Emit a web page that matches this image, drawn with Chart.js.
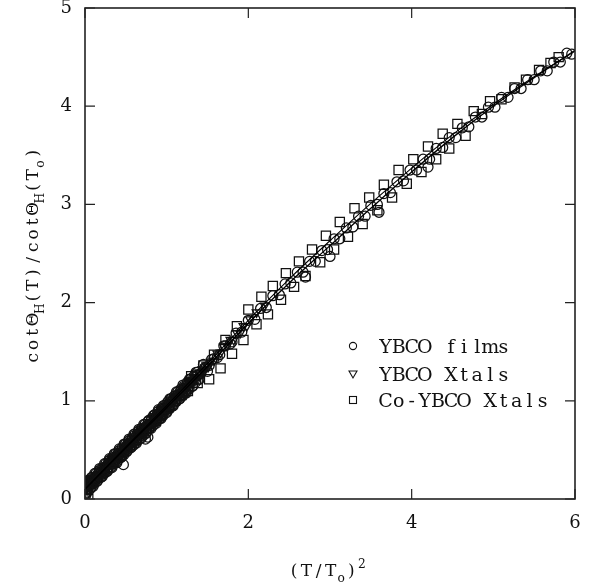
<!DOCTYPE html>
<html>
<head>
<meta charset="utf-8">
<script src="https://cdn.jsdelivr.net/npm/chart.js@4.4.1/dist/chart.umd.min.js"></script>
<style>
html,body{margin:0;padding:0;background:#fff;}
#wrap{width:590px;height:586px;position:relative;}
</style>
</head>
<body>
<div id="wrap"><canvas id="c" width="590" height="586"></canvas></div>
<script>
// ---- Data ----
const xTicks = [0, 2, 4, 6];
const yTicks = [0, 1, 2, 3, 4, 5];
const legendLabels = ['YBCO films', 'YBCO Xtals', 'Co-YBCO Xtals'];

// YBCO films (circles)
const filmsX = [
  0.00,0.02,0.04,0.06,0.08,0.10,0.12,0.15,0.18,0.21,0.24,0.27,0.30,0.33,0.36,0.39,0.42,0.45,0.48,0.51,0.54,0.57,0.60,0.63,0.66,0.69,0.72,0.75,0.78,0.81,0.84,0.87,0.90,0.93,0.96,1.00,1.04,1.08,1.12,1.16,1.20,1.24,1.28,1.32,1.36,1.40,1.45,1.50,
  0.01,0.03,0.05,0.07,0.09,0.11,0.13,0.16,0.19,0.22,0.25,0.28,0.31,0.34,0.37,0.40,0.43,0.46,0.49,0.52,0.55,0.58,0.61,0.64,0.67,0.70,0.73,0.76,0.79,0.82,0.85,0.88,0.91,0.94,0.97,1.02,1.06,1.10,1.14,1.18,1.22,1.26,1.30,1.34,1.38,1.42,1.47,1.52,1.58,1.65,1.72,1.80,
  0.005,0.025,0.045,0.065,0.085,0.105,0.125,0.145,0.165,0.185,0.205,0.225,0.245,0.265,0.285,0.305,0.325,0.345,0.365,0.385,0.405,0.425,0.445,0.465,0.485,0.505,0.525,0.545,0.565,0.585,0.605,0.625,0.645,0.665,0.685,0.705,0.725,0.745,0.765,0.785,0.805,0.825,0.845,0.865,0.885,0.905,0.925,0.945,0.965,0.985,1.005,1.025,1.045,1.065,1.085,1.105,1.125,1.145,1.165,1.185,1.205,1.225,1.245,1.265,1.285,
  0.015,0.035,0.055,0.075,0.095,0.115,0.135,0.155,0.175,0.195,0.215,0.235,0.255,0.275,0.295,0.315,0.335,0.355,0.375,0.395,0.415,0.435,0.455,0.475,0.495,0.515,0.535,0.555,0.575,0.595,0.615,0.635,0.655,0.675,0.695,0.715,0.735,0.755,0.775,0.795,0.815,0.835,0.855,0.875,0.895,0.915,0.935,0.955,0.975,0.995,1.015,1.035,1.055,1.075,1.095,1.115,1.135,1.155,1.175,1.195,1.215,1.235,1.255,1.275,1.295,1.315,1.335,1.355,1.375,1.395,
  0.00,0.01,0.02,
  0.47,0.74,0.77,
  1.55,1.62,1.70,1.78,1.85,1.92,2.00,2.08,2.15,2.22,2.30,2.38,2.45,2.52,2.60,2.67,2.75,2.82,2.90,2.97,3.05,3.12,3.20,3.28,3.35,3.43,3.50,3.58,3.66,3.74,3.82,3.90,3.98,4.06,4.14,4.22,4.30,4.38,4.46,4.54,4.62,4.70,4.78,4.86,4.94,5.02,5.10,5.18,5.26,5.34,5.42,5.50,5.58,5.66,5.74,5.82,5.90,5.96,
  2.70,3.00,3.60,4.20];
const filmsY = [
  0.16,0.07,0.19,0.10,0.22,0.13,0.26,0.18,0.31,0.23,0.36,0.28,0.41,0.32,0.46,0.37,0.51,0.43,0.56,0.48,0.61,0.53,0.66,0.57,0.71,0.62,0.76,0.67,0.80,0.72,0.85,0.77,0.91,0.82,0.95,0.88,1.02,0.95,1.09,1.02,1.16,1.08,1.22,1.15,1.29,1.22,1.37,1.30,
  0.12,0.11,0.15,0.15,0.18,0.18,0.22,0.22,0.27,0.27,0.32,0.32,0.37,0.37,0.42,0.43,0.47,0.48,0.52,0.53,0.57,0.58,0.62,0.62,0.67,0.67,0.72,0.72,0.76,0.77,0.81,0.82,0.87,0.87,0.92,0.94,0.99,1.00,1.06,1.08,1.13,1.14,1.19,1.21,1.26,1.28,1.34,1.36,1.43,1.47,1.56,1.60,
  0.12,0.10,0.16,0.14,0.19,0.17,0.22,0.20,0.26,0.23,0.29,0.27,0.32,0.30,0.36,0.33,0.39,0.37,0.42,0.40,0.46,0.43,0.49,0.47,0.52,0.50,0.56,0.53,0.59,0.57,0.62,0.60,0.66,0.63,0.69,0.67,0.72,0.70,0.75,0.73,0.79,0.77,0.82,0.80,0.86,0.83,0.89,0.86,0.92,0.90,0.95,0.93,0.99,0.96,1.02,1.00,1.05,1.03,1.09,1.06,1.12,1.10,1.15,1.13,1.19,
  0.16,0.09,0.19,0.12,0.22,0.16,0.26,0.19,0.29,0.22,0.32,0.26,0.36,0.29,0.39,0.32,0.42,0.36,0.46,0.39,0.49,0.42,0.52,0.45,0.56,0.49,0.59,0.52,0.62,0.55,0.66,0.59,0.69,0.62,0.72,0.65,0.76,0.69,0.79,0.72,0.82,0.75,0.86,0.79,0.89,0.82,0.92,0.85,0.95,0.89,0.99,0.92,1.02,0.95,1.05,0.99,1.09,1.02,1.12,1.05,1.15,1.09,1.19,1.12,1.22,1.15,1.25,1.19,1.29,1.22,
  0.05,0.04,0.06,
  0.35,0.61,0.63,
  1.42,1.44,1.56,1.58,1.69,1.70,1.82,1.83,1.94,1.95,2.07,2.08,2.19,2.20,2.31,2.31,2.42,2.42,2.53,2.54,2.65,2.65,2.76,2.77,2.88,2.88,2.99,3.00,3.11,3.12,3.23,3.24,3.35,3.35,3.46,3.46,3.57,3.58,3.68,3.68,3.78,3.79,3.89,3.89,3.99,3.99,4.09,4.09,4.18,4.18,4.27,4.27,4.36,4.36,4.45,4.45,4.54,4.53,
  2.26,2.47,2.92,3.38];

// YBCO Xtals (down triangles)
const xtalsX = [
  0.00,0.03,0.06,0.09,0.12,0.16,0.20,0.24,0.28,0.32,0.36,0.40,0.44,0.48,0.52,0.56,0.60,0.64,0.68,0.72,0.76,0.80,0.85,0.90,0.95,1.00,1.05,1.10,1.16,1.22,1.28,1.34,1.40,1.47,1.54,1.62,1.70,1.78,1.86,1.94,2.02,2.10,2.20,
  0.015,0.045,0.075,0.105,0.14,0.18,0.22,0.26,0.30,0.34,0.38,0.42,0.46,0.50,0.54,0.58,0.62,0.66,0.70,0.74,0.78,0.83,0.88,0.93,0.98,1.03,1.08,1.13,1.19,1.25,1.31,1.37,1.44,1.51,1.58,1.66,1.74,1.82,1.90,1.98,
  0.010,0.035,0.060,0.085,0.110,0.135,0.160,0.185,0.210,0.235,0.260,0.285,0.310,0.335,0.360,0.385,0.410,0.435,0.460,0.485,0.510,0.535,0.560,0.585,0.610,0.635,0.660,0.685,0.710,0.735,0.760,0.785,0.810,0.835,0.860,0.885,0.910,0.935,0.960,0.985,1.010,1.035,1.060,1.085,1.110,1.135,1.160,1.185,1.210,1.235,1.260,1.285,1.310,1.335,1.360,1.385,1.410,1.435,1.460,1.485,1.510];
const xtalsY = [
  0.12,0.15,0.17,0.20,0.22,0.25,0.29,0.32,0.35,0.39,0.42,0.45,0.49,0.52,0.55,0.59,0.62,0.65,0.68,0.72,0.75,0.78,0.83,0.87,0.91,0.95,0.99,1.03,1.08,1.13,1.18,1.23,1.29,1.34,1.40,1.48,1.55,1.62,1.69,1.76,1.83,1.90,1.97,
  0.10,0.13,0.15,0.18,0.21,0.24,0.27,0.31,0.34,0.37,0.41,0.44,0.47,0.51,0.54,0.57,0.61,0.64,0.67,0.70,0.74,0.78,0.82,0.86,0.90,0.95,0.99,1.03,1.08,1.13,1.18,1.23,1.29,1.35,1.41,1.49,1.56,1.62,1.69,1.76,
  0.11,0.16,0.15,0.20,0.19,0.24,0.23,0.28,0.27,0.32,0.32,0.37,0.36,0.41,0.40,0.45,0.44,0.49,0.48,0.53,0.52,0.57,0.57,0.62,0.61,0.66,0.65,0.70,0.69,0.74,0.73,0.78,0.77,0.82,0.81,0.86,0.86,0.91,0.90,0.95,0.94,0.99,0.98,1.03,1.02,1.07,1.06,1.11,1.10,1.15,1.15,1.20,1.19,1.24,1.23,1.28,1.27,1.32,1.31,1.36,1.35];

// Co-YBCO Xtals (squares)
const coX = [0.04,0.08,0.14,0.20,0.27,0.34,0.41,0.48,0.55,0.62,0.70,0.78,0.86,0.94,1.02,1.10,1.18,
  1.26,1.30,1.38,1.45,1.52,1.58,1.66,1.72,1.80,1.86,1.94,2.00,2.10,2.16,2.24,2.30,2.40,2.46,2.56,2.62,2.70,2.78,2.88,2.95,3.05,3.12,3.22,3.30,3.40,3.48,3.58,3.66,3.76,3.84,3.94,4.02,4.12,4.20,4.30,4.38,4.46,4.56,4.66,4.76,4.86,4.96,5.10,5.26,5.40,5.56,5.70,5.80];
const coY = [0.00,0.16,0.21,0.27,0.31,0.38,0.43,0.49,0.55,0.60,0.67,0.73,0.80,0.87,0.94,1.00,1.06,
  1.10,1.25,1.18,1.36,1.22,1.47,1.33,1.62,1.48,1.76,1.62,1.93,1.78,2.06,1.88,2.17,2.03,2.30,2.16,2.42,2.27,2.54,2.41,2.68,2.54,2.82,2.67,2.96,2.80,3.07,2.94,3.20,3.07,3.35,3.21,3.46,3.33,3.59,3.46,3.72,3.57,3.82,3.70,3.95,3.92,4.05,4.07,4.19,4.27,4.37,4.44,4.50];

// two solid fit curves
const fitX  = [0.00,0.50,1.00,1.50,2.00,2.50,3.00,3.50,4.00,4.50,5.00,5.50,6.00];
const fitY1 = [0.10,0.52,0.93,1.35,1.79,2.20,2.58,2.96,3.33,3.68,4.00,4.29,4.57];
const fitY2 = [0.10,0.53,0.95,1.38,1.82,2.24,2.63,3.01,3.37,3.71,4.02,4.30,4.56];

const pts = (xs, ys) => xs.map((x, i) => ({x: x, y: ys[i]}));

const SERIF = "'DejaVu Serif', 'Liberation Serif', serif";
const INK = '#111';

// Typewriter-like text: each glyph centred in a fixed-width cell
function drawMono(ctx, parts, size, cell) {
  let x = 0;
  for (const p of parts) {
    let fs = size, cw = cell, dy = 0;
    if (p.sub) { fs = size * 0.72; cw = cell * 0.7; dy = size * 0.34; }
    if (p.sup) { fs = size * 0.72; cw = cell * 0.7; dy = -size * 0.5; }
    ctx.font = fs + 'px ' + SERIF;
    for (const ch of p.t) {
      const w = ctx.measureText(ch).width;
      ctx.fillText(ch, x + (cw - w) / 2, dy);
      x += cw;
    }
  }
}

const decor = {
  id: 'decor',
  afterDatasetsDraw(chart) {
    const ctx = chart.ctx, a = chart.chartArea;
    const xs = chart.scales.x, ys = chart.scales.y;
    ctx.save();
    ctx.strokeStyle = '#222';
    ctx.lineWidth = 1.6;
    ctx.strokeRect(a.left, a.top, a.right - a.left, a.bottom - a.top);
    ctx.lineWidth = 1.2;
    const TL = 10;
    ctx.beginPath();
    xs.ticks.forEach(t => {
      const px = xs.getPixelForValue(t.value);
      ctx.moveTo(px, a.bottom); ctx.lineTo(px, a.bottom - TL);
      ctx.moveTo(px, a.top); ctx.lineTo(px, a.top + TL);
    });
    ys.ticks.forEach(t => {
      const py = ys.getPixelForValue(t.value);
      ctx.moveTo(a.left, py); ctx.lineTo(a.left + TL, py);
      ctx.moveTo(a.right, py); ctx.lineTo(a.right - TL, py);
    });
    ctx.stroke();

    // axis titles
    ctx.fillStyle = INK;
    ctx.textBaseline = 'alphabetic';
    ctx.textAlign = 'left';
    ctx.save();
    ctx.translate(288, 576);
    drawMono(ctx, [{t:'(T/T'},{t:'o',sub:true},{t:')'},{t:'2',sup:true}], 17, 12.2);
    ctx.restore();

    ctx.save();
    ctx.translate(38, 364);
    ctx.rotate(-Math.PI / 2);
    drawMono(ctx, [{t:'cotΘ'},{t:'H',sub:true},{t:'(T)/cotΘ'},{t:'H',sub:true},{t:'(T'},{t:'o',sub:true},{t:')'}], 17, 12.7);
    ctx.restore();

    // legend
    const rows = [346, 374, 400];
    const mx = 353;
    ctx.lineWidth = 1.1;
    ctx.strokeStyle = INK;
    ctx.beginPath(); ctx.arc(mx, rows[0], 3.6, 0, Math.PI * 2); ctx.stroke();
    ctx.beginPath();
    ctx.moveTo(mx - 4, rows[1] - 3); ctx.lineTo(mx + 4, rows[1] - 3); ctx.lineTo(mx, rows[1] + 4); ctx.closePath(); ctx.stroke();
    ctx.strokeRect(mx - 3.5, rows[2] - 3.5, 7, 7);
    legendLabels.forEach((l, i) => {
      ctx.save();
      ctx.translate(379, rows[i] + 7);
      drawMono(ctx, [{t:l}], 19, 13.1);
      ctx.restore();
    });
    ctx.restore();
  }
};

const markerBase = {
  showLine: false,
  borderColor: INK,
  backgroundColor: 'rgba(0,0,0,0)',
  borderWidth: 1.25
};

const hiddenGrid = (len) => ({ display: true, drawOnChartArea: false, drawTicks: true, tickLength: len, color: 'rgba(0,0,0,0)' });

new Chart(document.getElementById('c'), {
  type: 'scatter',
  data: {
    datasets: [
      { label: 'fit1', data: pts(fitX, fitY1), showLine: true, pointRadius: 0, borderColor: '#000', borderWidth: 1.3, tension: 0.4, fill: false },
      { label: 'fit2', data: pts(fitX, fitY2), showLine: true, pointRadius: 0, borderColor: '#000', borderWidth: 1.1, tension: 0.4, fill: false },
      Object.assign({ label: legendLabels[0], data: pts(filmsX, filmsY), pointStyle: 'circle', pointRadius: 5 }, markerBase),
      Object.assign({ label: legendLabels[1], data: pts(xtalsX, xtalsY), pointStyle: 'triangle', pointRotation: 180, pointRadius: 5 }, markerBase),
      Object.assign({ label: legendLabels[2], data: pts(coX, coY), pointStyle: 'rect', pointRadius: 6.5 }, markerBase)
    ]
  },
  options: {
    responsive: false,
    animation: false,
    events: [],
    layout: { padding: { top: 8, right: 15, left: 0, bottom: 0 } },
    plugins: { legend: { display: false }, tooltip: { enabled: false } },
    scales: {
      x: {
        type: 'linear', min: 0, max: 6,
        afterBuildTicks: s => { s.ticks = xTicks.map(v => ({value: v})); },
        afterFit: s => { s.height = 87; },
        grid: hiddenGrid(15),
        border: { display: false },
        ticks: { color: INK, padding: 0, font: { family: SERIF, size: 18, lineHeight: 1 }, callback: v => String(v) }
      },
      y: {
        type: 'linear', min: 0, max: 5,
        afterBuildTicks: s => { s.ticks = yTicks.map(v => ({value: v})); },
        afterFit: s => { s.width = 85; },
        grid: hiddenGrid(13),
        border: { display: false },
        ticks: { color: INK, padding: 0, font: { family: SERIF, size: 18, lineHeight: 0.8 }, callback: v => String(v) }
      }
    }
  },
  plugins: [decor]
});
</script>
</body>
</html>
